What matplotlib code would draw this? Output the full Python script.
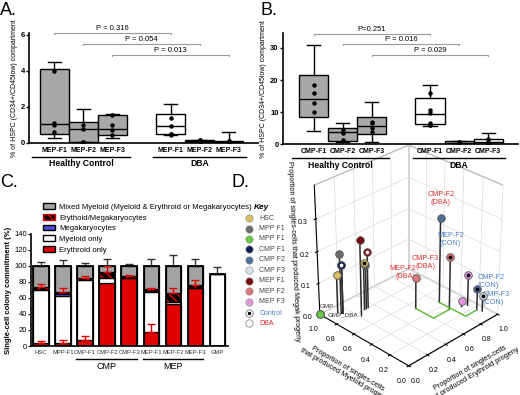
import matplotlib
matplotlib.use('Agg')
import matplotlib.pyplot as plt
from matplotlib.patches import Patch
import numpy as np

# ---- panel A / B data (box stats) ----
box_pos = [1, 2, 3, 5, 6, 7]
a_labels = ['MEP-F1', 'MEP-F2', 'MEP-F3', 'MEP-F1', 'MEP-F2', 'MEP-F3']
# whislo, q1, med, q3, whishi
a_stats = [(0.3, 0.5, 1.05, 4.1, 4.5), (0.05, 0.07, 0.78, 1.17, 1.9), (0.25, 0.45, 0.8, 1.55, 1.6),
           (0.45, 0.5, 0.95, 1.6, 2.15), (0.02, 0.05, 0.1, 0.15, 0.18), (0.0, 0.02, 0.08, 0.12, 0.6)]
a_pts = [[4.0, 1.1, 1.0, 0.6], [1.0, 0.75, 0.06, 0.05], [1.55, 1.0, 0.7, 0.45],
         [1.4, 0.95, 0.5, 0.45, 0.5], [0.1, 0.12, 0.15, 0.08, 0.18], [0.05, 0.1, 0.12, 0.08, 0.03]]
a_pvals = ['P = 0.316', 'P = 0.054', 'P = 0.013']
a_plevels = [6.1, 5.5, 4.9]

b_labels = ['CMP-F1', 'CMP-F2', 'CMP-F3', 'CMP-F1', 'CMP-F2', 'CMP-F3']
b_stats = [(4.2, 8.5, 14.0, 21.5, 31.0), (0.8, 1.0, 3.9, 5.0, 6.6), (0.7, 3.1, 5.7, 8.4, 13.1),
           (5.8, 6.2, 9.3, 14.5, 18.5), (0.2, 0.3, 0.5, 0.9, 1.1), (0.1, 0.2, 0.8, 1.7, 3.4)]
b_pts = [[18.5, 15.8, 12.8, 10.0], [4.5, 3.5, 1.2], [7.0, 6.5, 5.0, 3.9],
         [15.8, 10.8, 9.8, 6.5, 6.0, 5.9], [0.5, 0.8, 0.6, 0.3], [0.5, 1.5, 0.8, 0.3]]
b_pvals = ['P=0.251', 'P = 0.016', 'P = 0.029']
b_plevels = [34.5, 31.2, 27.8]
p_pairs = [(1, 5), (2, 6), (3, 7)]

# ---- panel C data ----
c_cats = ['HSC', 'MPP-F1', 'CMP-F1', 'CMP-F2', 'CMP-F3', 'MEP-F1', 'MEP-F2', 'MEP-F3', 'GMP']
ery_only = [4, 4, 7, 79, 85, 18, 53, 73, 0]
mye_only = [66, 58, 76, 6, 0, 49, 2, 0, 90]
megak = [0, 3, 0, 0, 0, 2, 0, 0, 0]
ery_meg = [4, 2, 2, 7, 3, 2, 11, 3, 0]
mixed = [26, 33, 15, 8, 12, 29, 34, 24, 0]
ery_err = [2.5, 4, 5, 0, 0, 10, 0, 0, 0]
em_err = [3, 5, 2, 8, 1, 1, 7, 6, 0]
tot_err = [5, 7, 4, 8, 2, 9, 14, 9, 9]

# ---- panel D data: (erythroid, myeloid, megak) ----
d_names = ['HSC', 'MPP F1', 'MPP F1', 'CMP F1', 'CMP F2', 'CMP F3', 'MEP F1', 'MEP F2', 'MEP F3']
d_colors = ['#d8bd5c', '#6b6b6b', '#66cc44', '#0c1f52', '#4d6f9c', '#d6e4f2', '#7a0c0c', '#e07575', '#e794e2']
pt_group = [0, 0, 1, 1, 3, 3, 6, 6, 7, 7, 4, 4, 8, 8, 5, 2, 2]
pt_ery = [0.12, 0.30, 0.13, 0.32, 0.14, 0.14, 0.22, 0.34, 0.60, 0.78, 0.80, 0.93, 0.88, 0.93, 0.95, 0.0, 0.0]
pt_mye = [0.92, 0.80, 0.89, 0.80, 0.88, 0.88, 0.75, 0.80, 0.52, 0.32, 0.45, 0.16, 0.28, 0.26, 0.12, 1.0, 1.0]
pt_meg = [0.12, 0.15, 0.19, 0.14, 0.155, 0.155, 0.24, 0.18, 0.10, 0.17, 0.27, 0.07, 0.02, 0.10, 0.05, 0.0, 0.0]
pt_ctrl = [0, 1, 0, 1, 0, 1, 0, 1, 0, 1, 0, 1, 0, 1, 1, 1, 0]
# labelled points: index, text, alignment
d_lab_idx = [10, 9, 8, 11, 14]
d_lab_txt = ['CMP-F2\n(DBA)', 'MEP-F2\n(CON)', 'MEP-F2\n(DBA)', 'CMP-F2\n(CON)', 'CMP-F3\n(CON)']
d_lab_ha = ['center', 'center', 'right', 'left', 'left']
d_lab_va = ['bottom', 'bottom', 'bottom', 'bottom', 'center']
d_lab_dz = [0.02, 0.015, -0.008, 0.0, -0.008]
cmpf3_dba_lab = (0.58, 0.40, 0.145)
green_path1 = ([0.93, 0.80, 0.80], [0.16, 0.16, 0.45])
green_path2 = ([0.78, 0.60, 0.60], [0.32, 0.32, 0.52])

fig = plt.figure(figsize=(5.2, 3.95), dpi=100)
plt.rcParams['font.family'] = 'Liberation Sans'


def box_panel(rect, stats, pts, labels, pvals, levels, ylim, yticks, xlim):
    ax = fig.add_axes(rect)
    bx = []
    for s in stats:
        bx.append(dict(whislo=s[0], q1=s[1], med=s[2], q3=s[3], whishi=s[4], fliers=[]))
    res = ax.bxp(bx, positions=box_pos, widths=1.0, patch_artist=True, showfliers=False,
                 capwidths=0.45, manage_ticks=False,
                 medianprops=dict(color='k', lw=1.0), whiskerprops=dict(lw=1.0),
                 capprops=dict(lw=1.0), boxprops=dict(lw=1.0))
    for i, b in enumerate(res['boxes']):
        b.set_facecolor('#a8a8a8' if i < 3 else 'white')
    for p, vals in zip(box_pos, pts):
        ax.plot([p] * len(vals), vals, 'o', color='k', ms=2.2, zorder=5)
    ax.set_xlim(*xlim)
    ax.set_ylim(*ylim)
    ax.set_yticks(yticks)
    ax.set_xticks(box_pos)
    ax.set_xticklabels(labels, fontsize=5, fontweight='bold')
    ax.tick_params(axis='x', length=0, pad=3)
    ax.tick_params(axis='y', labelsize=5.5, length=2, width=1, pad=1)
    for t in ax.get_yticklabels():
        t.set_fontweight('bold')
    ax.spines[['top', 'right']].set_visible(False)
    ax.spines[['left', 'bottom']].set_linewidth(1.2)
    ax.set_ylabel('% of HSPC (CD34+/CD45low) compartment', fontsize=5, labelpad=2)
    d = (ylim[1]) * 0.012
    for (x1, x2), lev, txt in zip(p_pairs, levels, pvals):
        ax.plot([x1, x1, x2, x2], [lev - d, lev, lev, lev - d], color='#9a9a9a', lw=0.8, clip_on=False)
        ax.text((x1 + x2) / 2, lev + d * 0.6, txt, ha='center', va='bottom', fontsize=5.5)
    tr = ax.get_xaxis_transform()
    for (x1, x2), g in zip([(0.25, 3.6), (4.4, 7.6)], ['Healthy Control', 'DBA']):
        ax.plot([x1, x2], [-0.125, -0.125], color='k', lw=1.0, transform=tr, clip_on=False)
        ax.text((x1 + x2) / 2, -0.15, g, transform=tr, ha='center', va='top',
                fontsize=6.2, fontweight='bold')
    return ax


# ---- panel D 3D (drawn first so the box panels sit on top) ----
ax3 = fig.add_axes([0.555, 0.065, 0.45, 0.58], projection='3d', proj_type='persp', focal_length=1.0)
ax3.set_facecolor('none')
ax3.view_init(elev=30, azim=-135)
ax3.set_box_aspect((1, 1, 1.15), zoom=1.0)
ax3.set_xlim(0, 1)
ax3.set_ylim(0, 1)
ax3.set_zlim(0, 0.4)
for a in (ax3.xaxis, ax3.yaxis, ax3.zaxis):
    a.set_pane_color((1, 1, 1, 1))
    a.pane.set_edgecolor('#bbbbbb')
    a._axinfo['grid']['color'] = '#dcdcdc'
    a._axinfo['grid']['linewidth'] = 0.5
    a._axinfo['axisline']['color'] = '#777777'
ax3.set_xticks([0, 0.2, 0.4, 0.6, 0.8, 1.0])
ax3.set_yticks([0, 0.2, 0.4, 0.6, 0.8, 1.0])
ax3.set_zticks([0, 0.1, 0.2, 0.3])
ax3.tick_params(labelsize=5, pad=-2)
ax3.set_xlabel('Proportion of singles-cells\nthat produced Erythroid progeny', fontsize=5.2, labelpad=-5)
ax3.set_ylabel('Proportion of singles-cells\nthat produced Myeloid progeny', fontsize=5.2, labelpad=-5)
ax3.set_zlabel('Proportion of singles-cells that produced Megak progeny', fontsize=5.2, labelpad=-10)
for k in range(len(pt_ery)):
    ax3.plot([pt_ery[k]] * 2, [pt_mye[k]] * 2, [0, pt_meg[k]], color='#2a2a2a', lw=1.1)
for k in range(len(pt_ery)):
    c = d_colors[pt_group[k]]
    ax3.scatter(pt_ery[k], pt_mye[k], pt_meg[k], s=30, color=c, edgecolor='#555555', lw=0.6,
                depthshade=False)
    if pt_ctrl[k]:
        dot = 'white' if pt_group[k] in (3, 6) else 'k'
        ax3.scatter(pt_ery[k], pt_mye[k], pt_meg[k], s=3, color=dot, depthshade=False)
for idx, txt, ha, va, dz in zip(d_lab_idx, d_lab_txt, d_lab_ha, d_lab_va, d_lab_dz):
    col = '#e03030' if 'DBA' in txt else '#4a7fc4'
    ax3.text(pt_ery[idx], pt_mye[idx], pt_meg[idx] + dz + (0.015 if ha == 'center' else 0),
             txt, fontsize=5.2, color=col, ha=ha, va=va)
ax3.text(*cmpf3_dba_lab, 'CMP-F3\n(DBA)', fontsize=5.2, color='#e03030', ha='center', va='bottom')
ax3.text(0.0, 1.0, 0.02, 'GMP', fontsize=4.5, color='#333333', ha='left')
ax3.text(0.05, 0.97, -0.01, 'GMP_DBA', fontsize=4.5, color='#333333', ha='left')
for gx, gy in (green_path1, green_path2):
    ax3.plot(gx, gy, [0] * len(gx), color='#55bb33', lw=1.0)

box_panel([0.056, 0.638, 0.44, 0.278], a_stats, a_pts, a_labels, a_pvals, a_plevels,
          (0, 6.1), [0, 2, 4, 6], (0.14, 8.0))
box_panel([0.544, 0.635, 0.452, 0.281], b_stats, b_pts, b_labels, b_pvals, b_plevels,
          (0, 34.6), [0, 10, 20, 30], (-0.07, 8.03))

# ---- panel C ----
axc = fig.add_axes([0.06, 0.124, 0.379, 0.284])
xc = np.arange(len(c_cats))
w = 0.7
bot = np.zeros(len(c_cats))
axc.bar(xc, ery_only, w, color='#e00000', edgecolor='k', lw=0.9)
bot += ery_only
axc.bar(xc, mye_only, w, bottom=bot, color='white', edgecolor='k', lw=0.9)
bot += mye_only
axc.bar(xc, megak, w, bottom=bot, color='#4b4bdc', edgecolor='k', lw=0.9)
bot += megak
axc.bar(xc, ery_meg, w, bottom=bot, color='k', edgecolor='#e00000', lw=0, hatch='\\\\\\\\')
bot += ery_meg
axc.bar(xc, mixed, w, bottom=bot, color='#a3a3a3', edgecolor='k', lw=0.9)
bot += mixed
axc.bar(xc, bot, w, fill=False, edgecolor='k', lw=1.3, zorder=3)
ery_top = np.array(ery_only)
em_top = np.array(ery_only) + np.array(mye_only) + np.array(megak) + np.array(ery_meg)
for i in range(len(c_cats)):
    if ery_err[i] > 0:
        axc.errorbar(xc[i], ery_top[i], yerr=[[0], [ery_err[i]]], color='#e00000', lw=1, capsize=3, capthick=1)
    if em_err[i] > 0:
        axc.errorbar(xc[i], em_top[i], yerr=[[0], [em_err[i]]], color='#e00000', lw=1, capsize=3, capthick=1, zorder=4)
    axc.errorbar(xc[i], bot[i], yerr=[[0], [tot_err[i]]], color='#333333', lw=1, capsize=3, capthick=1)
axc.set_xlim(-0.45, 8.5)
axc.set_ylim(0, 140)
axc.set_yticks(range(0, 141, 20))
axc.set_xticks(xc)
axc.set_xticklabels(c_cats, fontsize=4.2, color='#333333')
axc.tick_params(axis='x', length=0, pad=3)
axc.tick_params(axis='y', labelsize=5.5, length=2, pad=1)
axc.spines[['top', 'right']].set_visible(False)
axc.spines[['left', 'bottom']].set_linewidth(1.2)
axc.set_ylabel('Single-cell colony commitment (%)', fontsize=5.5, fontweight='bold', labelpad=2)
trc = axc.get_xaxis_transform()
for (x1, x2), g in zip([(1.6, 4.36), (4.64, 7.36)], ['CMP', 'MEP']):
    axc.plot([x1, x2], [-0.116, -0.116], color='k', lw=1.0, transform=trc, clip_on=False)
    axc.text((x1 + x2) / 2, -0.14, g, transform=trc, ha='center', va='top', fontsize=6.5)
handles = [Patch(facecolor='#a3a3a3', edgecolor='k'),
           Patch(facecolor='k', edgecolor='#e00000', hatch='\\\\\\\\'),
           Patch(facecolor='#4b4bdc', edgecolor='k'),
           Patch(facecolor='white', edgecolor='k'),
           Patch(facecolor='#e00000', edgecolor='k')]
fig.legend(handles, ['Mixed Myeloid (Myeloid & Erythroid or Megakaryocytes)', 'Erythoid/Megakaryocytes',
                     'Megakaryocytes', 'Myeloid only', 'Erythroid only'],
           loc='upper left', bbox_to_anchor=(0.075, 0.495), frameon=False, fontsize=5.6,
           handlelength=1.5, handleheight=0.7, labelspacing=0.42, handletextpad=0.6, borderpad=0)

# ---- panel D key ----
axk = fig.add_axes([0.463, 0.16, 0.08, 0.33])
axk.set_xlim(0, 1)
axk.set_ylim(11.5, -1)
axk.axis('off')
axk.text(0.5, -0.4, 'Key', fontsize=6, fontweight='bold', fontstyle='italic', ha='center', va='center')
for i, (n, c) in enumerate(zip(d_names, d_colors)):
    axk.scatter(0.2, i + 0.6, s=28, color=c, edgecolor='#888888', lw=0.4)
    axk.text(0.45, i + 0.6, n, fontsize=5.0, color='#444444', va='center')
axk.scatter(0.2, 9.7, s=28, color='white', edgecolor='#555555', lw=0.5)
axk.scatter(0.2, 9.7, s=2, color='k')
axk.text(0.45, 9.7, 'Control', fontsize=5.0, color='#4a7fc4', va='center')
axk.scatter(0.2, 10.7, s=28, color='white', edgecolor='#777777', lw=0.5)
axk.text(0.45, 10.7, 'DBA', fontsize=5.0, color='#e03030', va='center')

# panel letters
for lab, x, y in [('A.', 0.0, 0.995), ('B.', 0.5, 0.995), ('C.', 0.0, 0.56), ('D.', 0.445, 0.56)]:
    fig.text(x, y, lab, fontsize=13, va='top', ha='left')

fig.savefig('out.png', dpi=100)
